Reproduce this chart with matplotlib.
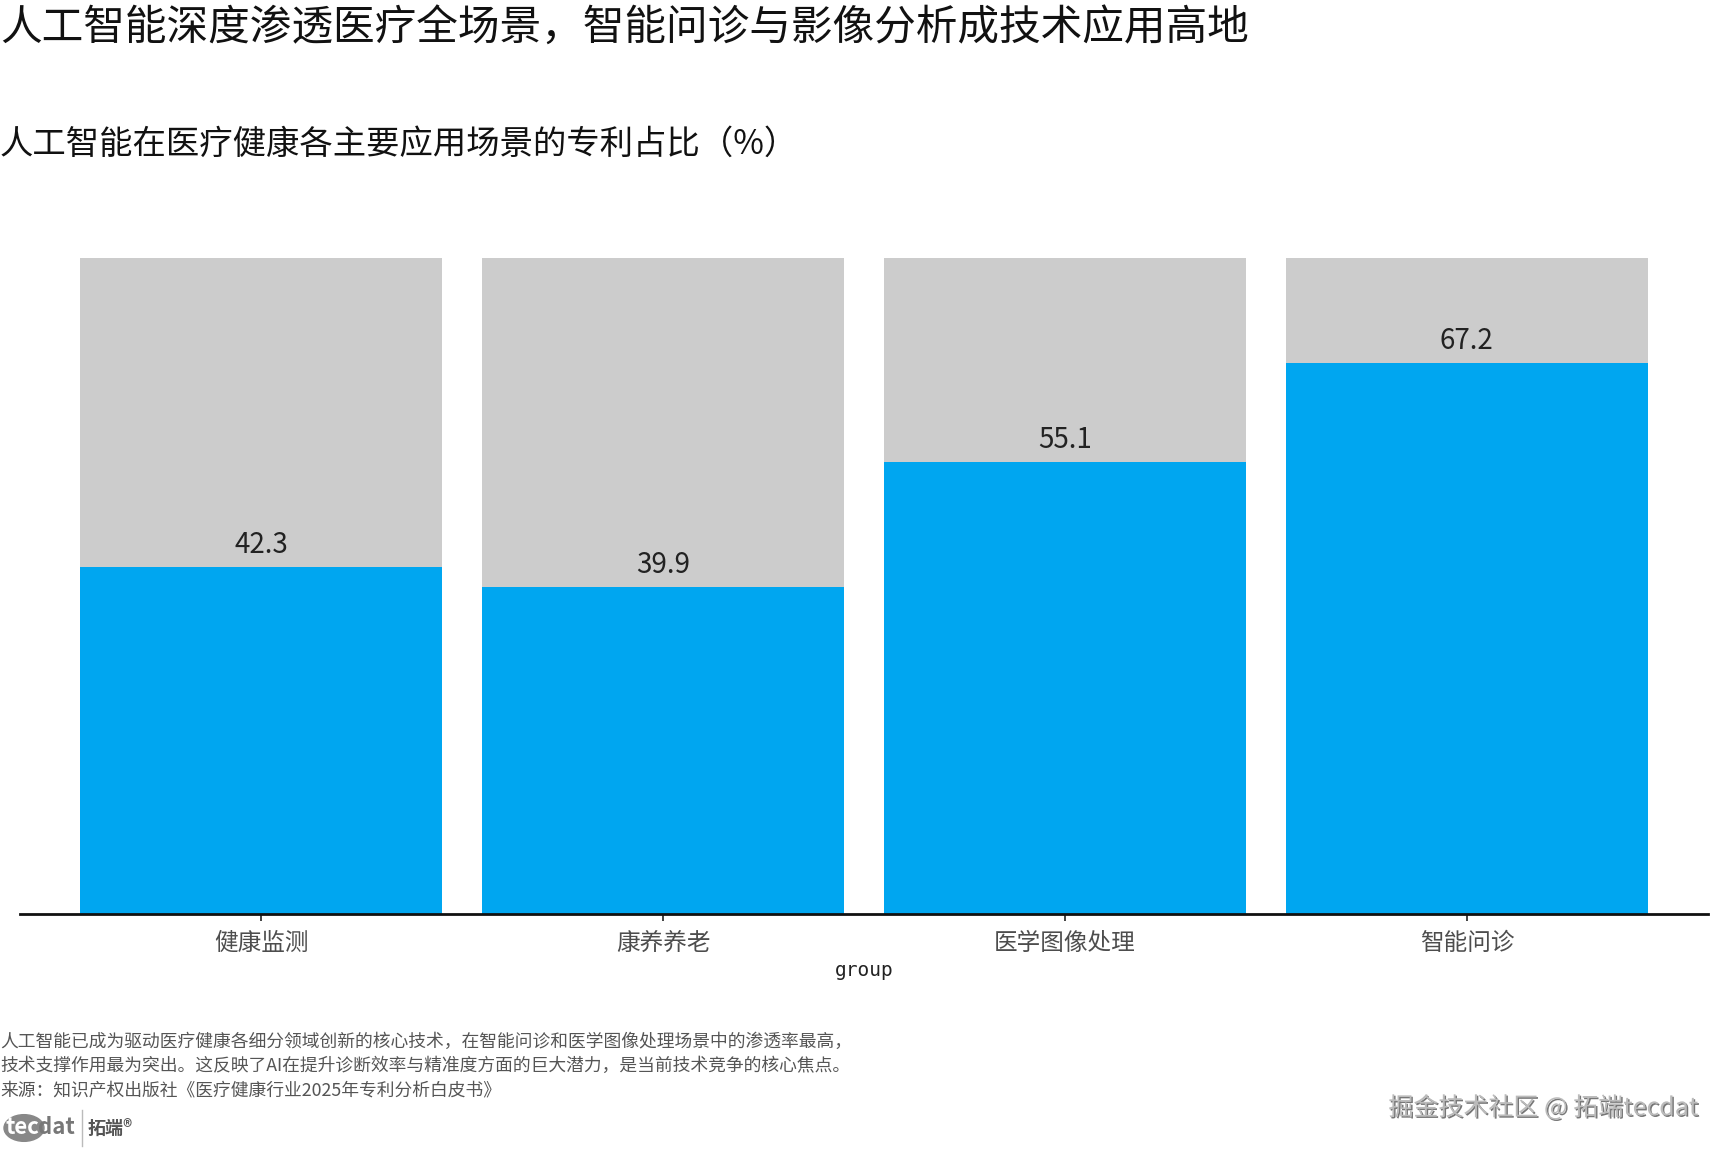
import matplotlib
matplotlib.use("Agg")
import matplotlib.pyplot as plt
from matplotlib.patches import Circle
import matplotlib.patheffects as pe

plt.rcParams['font.family'] = ['Noto Sans CJK SC', 'DejaVu Sans']

# data
groups = ["健康监测", "康养养老", "医学图像处理", "智能问诊"]
shares = [42.3, 39.9, 55.1, 67.2]
full_scale = [80, 80, 80, 80]

title = "人工智能深度渗透医疗全场景，智能问诊与影像分析成技术应用高地"
subtitle = "人工智能在医疗健康各主要应用场景的专利占比（%）"
caption = ("人工智能已成为驱动医疗健康各细分领域创新的核心技术，在智能问诊和医学图像处理场景中的渗透率最高，\n"
           "技术支撑作用最为突出。这反映了AI在提升诊断效率与精准度方面的巨大潜力，是当前技术竞争的核心焦点。\n"
           "来源：知识产权出版社《医疗健康行业2025年专利分析白皮书》")

W, H = 1728, 1152
fig = plt.figure(figsize=(W / 100, H / 100), dpi=100)
ax = fig.add_axes([20 / W, 1 - 914 / H, (1708 - 20) / W, (914 - 258) / H])

x = range(len(groups))
ax.bar(x, full_scale, width=0.9, color="#cccccc", zorder=1)
ax.bar(x, shares, width=0.9, color="#00a6f0", zorder=2)
for xi, v in zip(x, shares):
    ax.annotate(f"{v:.1f}", (xi, v), xytext=(0, 5), textcoords="offset points",
                ha="center", va="bottom", fontsize=20, color="#222222", zorder=3)

ax.set_xlim(-0.6, 3.6)
ax.set_ylim(0, 80)
ax.set_xticks(list(x))
ax.set_xticklabels(groups, fontsize=17, color="#4d4d4d")
ax.tick_params(axis="x", length=5, width=1.2, color="#222222", pad=8)
ax.set_yticks([])
for s in ["top", "right", "left"]:
    ax.spines[s].set_visible(False)
ax.spines["bottom"].set_linewidth(2)
ax.spines["bottom"].set_color("#111111")
ax.set_xlabel("group", fontsize=14, color="#222222", labelpad=4,
              family=["DejaVu Sans Mono"])

fig.text(0.0, 1 - 28 / H, title, fontsize=30, color="#111111", va="center", ha="left")
fig.text(0.0, 1 - 144 / H, subtitle, fontsize=24, color="#111111", va="center", ha="left")
fig.text(0.0, 1 - 1066 / H, caption, fontsize=12.8, color="#555555", va="center",
         ha="left", linespacing=1.45)

# logo
fig.patches.append(Circle((24 / W, 1 - 1128 / H), 20 / W, transform=fig.transFigure,
                          color="#888888", zorder=0))
fig.text(6 / W, 1 - 1128 / H, "tec", fontsize=16, color="white", va="center",
         ha="left", weight="bold")
fig.text(38 / W, 1 - 1128 / H, "dat", fontsize=16, color="#777777", va="center",
         ha="left", weight="bold")
fig.lines.append(plt.Line2D([82 / W, 82 / W], [1 - 1110 / H, 1 - 1146 / H],
                            transform=fig.transFigure, color="#bbbbbb", lw=1))
fig.text(88 / W, 1 - 1128 / H, "拓端®", fontsize=13, color="#555555", va="center",
         ha="left", weight="bold")

fig.text(1698 / W, 1 - 1108 / H, "掘金技术社区 @ 拓端tecdat", fontsize=18,
         color="#bbbbbb", va="center", ha="right",
         path_effects=[pe.withSimplePatchShadow(offset=(1, -1), shadow_rgbFace="#555555",
                                                alpha=0.8)])

fig.savefig("out.png", dpi=100, facecolor="white")
